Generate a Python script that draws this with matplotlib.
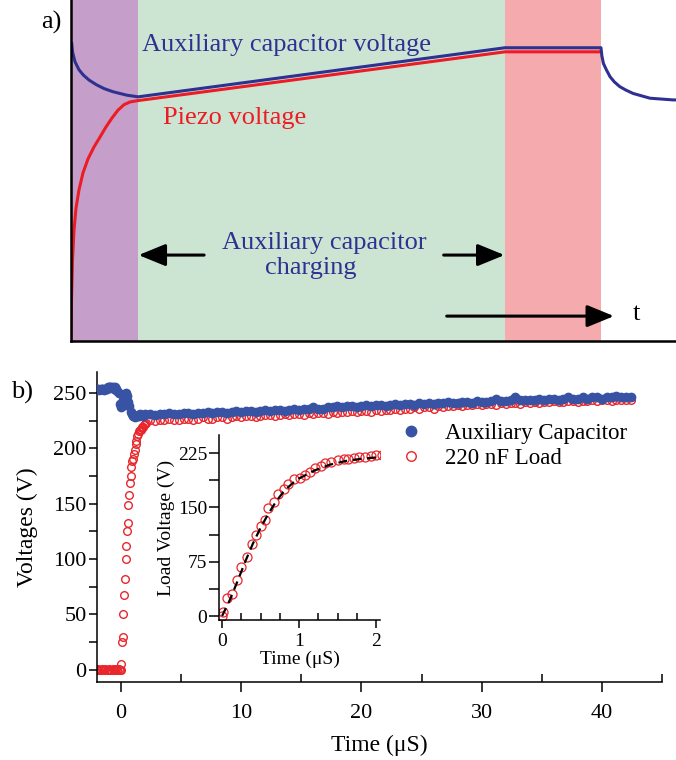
import numpy as np
import matplotlib
matplotlib.use('Agg')
import matplotlib.pyplot as plt

plt.rcParams['font.family'] = ['Liberation Serif', 'DejaVu Serif']

# ---- panel a) schematic (arbitrary units, 0..100 on both axes) ----
phase_edges = [0, 11.07, 71.74, 87.6]
phase_colors = ['#C59FC9', '#CCE5D3', '#F5AAAD']

aux_x = [0.1, 0.25, 0.66, 1.3, 2.03, 3.0, 4.25, 5.5, 6.94, 9.2, 11.1, 71.74, 87.6,
         87.75, 88.0, 88.5, 89.1, 89.8, 90.7, 91.7, 92.9, 95.7, 99.5, 100]
aux_y = [87.6, 84.8, 81.9, 79.6, 78.0, 76.5, 75.1, 74.0, 73.1, 72.1, 71.6, 86.0, 86.0,
         83.6, 81.4, 79.5, 77.5, 76.0, 74.6, 73.6, 72.6, 71.2, 70.7, 70.7]
piezo_x = [0, 0.083, 0.25, 0.5, 0.83, 1.32, 1.98, 2.81, 3.8, 4.79, 5.79, 6.78, 7.77,
           8.76, 9.75, 11.07, 71.74, 87.6]
piezo_y = [0, 12.0, 23.8, 32.6, 39.0, 44.3, 49.3, 53.4, 56.9, 59.8, 62.8, 65.4, 67.7,
           69.3, 70.1, 70.5, 84.8, 84.8]

# ---- panel b) measured voltages ----
# before the trigger (t < 0)
t_pre = np.linspace(-2.0, -0.1, 20)
load_pre = [0, 1, 0, 0, 1, 0, 0, 1, 0, 0, 1, 0, 0, 1, 0, 0, 1, 0, 1, 0]

# load charging (also shown in the inset)
t_rise = [0.0, 0.01, 0.07, 0.13, 0.19, 0.25, 0.32, 0.39, 0.44, 0.51, 0.56, 0.59, 0.68,
          0.73, 0.80, 0.86, 0.93, 1.01, 1.08, 1.14, 1.21, 1.28, 1.34, 1.42, 1.51,
          1.58, 1.64, 1.71, 1.78, 1.86, 1.93, 2.0, 2.07]
load_rise = [0, 5, 25, 30, 50, 68, 82, 100, 112, 125, 133, 149, 158,
             169, 175, 183, 189, 190, 195, 199, 204, 207, 211, 213, 216,
             217, 217, 218, 219, 219, 221, 222, 223]

# slow part, t = 2.4 .. 42.4 us
t_slow = np.linspace(2.4, 42.4, 101)
load_slow = [226, 225, 226, 226, 227, 226, 226, 227, 227, 226,
             227, 228, 227, 227, 228, 228, 227, 228, 229, 228,
             229, 229, 228, 229, 230, 230, 229, 230, 231, 230,
             231, 231, 230, 232, 231, 232, 232, 231, 233, 232,
             233, 233, 234, 233, 234, 234, 233, 235, 234, 235,
             235, 236, 235, 236, 236, 237, 236, 237, 237, 236,
             238, 237, 238, 238, 239, 238, 239, 239, 240, 239,
             240, 240, 239, 241, 240, 241, 241, 240, 242, 241,
             242, 241, 242, 242, 243, 242, 242, 243, 243, 242,
             243, 243, 244, 243, 244, 244, 243, 244, 244, 244,
             244]

t_aux_fast = np.linspace(-2.0, 2.0, 41)
aux_fast = [254, 254, 253, 254, 254, 254, 253, 254, 254, 255,
            255, 255, 255, 255, 254, 255, 254, 252, 250,
            240, 237, 238, 244, 249, 250, 247, 242, 238, 233, 231,
            229, 230, 228, 229, 230, 229, 231, 230, 229, 230, 231]
aux_slow = [231, 230, 231, 231, 232, 231, 231, 232, 232, 231,
            232, 232, 233, 232, 233, 233, 232, 233, 234, 233,
            234, 234, 233, 234, 235, 234, 235, 235, 234, 235,
            236, 235, 236, 236, 237, 236, 236, 237, 237, 238,
            237, 238, 238, 237, 238, 239, 238, 239, 239, 238,
            239, 240, 239, 240, 240, 239, 241, 240, 241, 240,
            241, 241, 242, 241, 241, 242, 242, 241, 243, 242,
            242, 243, 245, 243, 243, 244, 246, 244, 244, 244,
            244, 245, 244, 245, 245, 244, 245, 246, 245, 245,
            246, 245, 246, 246, 245, 246, 246, 247, 246, 246,
            246]

# exponential fit drawn in the inset
t_fit = [0, 0.1, 0.2, 0.3, 0.4, 0.5, 0.6, 0.7, 0.8, 0.9, 1.0, 1.2, 1.4, 1.6, 1.8, 2.0, 2.1]
v_fit = [0, 22, 48, 75, 100, 122, 141, 158, 172, 182, 190, 201, 209, 214, 217, 219, 219]

NAVY = '#2E3192'
RED = '#ED1C24'
BLUE = '#3953A4'
PRED = '#E8262B'

fig = plt.figure(figsize=(6.76, 7.6), dpi=100)

# ================= a) =================
ax = fig.add_axes([71/676, 1-341/760, 605/676, 341/760])
for i in range(3):
  ax.axvspan(phase_edges[i], phase_edges[i+1], color=phase_colors[i], lw=0, zorder=0)
ax.plot(piezo_x, piezo_y, color=RED, lw=2.2, solid_capstyle='butt', zorder=3)
ax.plot(aux_x, aux_y, color=NAVY, lw=2.2, solid_capstyle='butt', zorder=4)
ax.set_xlim(0, 100)
ax.set_ylim(0, 100)
ax.set_xticks([])
ax.set_yticks([])
for s in ['top', 'right']:
  ax.spines[s].set_visible(False)
for s in ['left', 'bottom']:
  ax.spines[s].set_linewidth(1.8)
  ax.spines[s].set_zorder(5)

ax.text(35.7, 86.8, 'Auxiliary capacitor voltage', color=NAVY, fontsize=19,
        ha='center', va='center')
ax.text(27.0, 65.4, 'Piezo voltage', color=RED, fontsize=19, ha='center', va='center')
ax.text(41.8, 28.7, 'Auxiliary capacitor', color=NAVY, fontsize=19, ha='center', va='center')
ax.text(39.7, 21.4, 'charging', color=NAVY, fontsize=19, ha='center', va='center')
ax.text(93.4, 7.9, 't', color='black', fontsize=19, ha='center', va='center')

arr = dict(arrowstyle='-|>,head_length=1.1,head_width=0.45', color='black', lw=2.2,
           shrinkA=0, shrinkB=0, mutation_scale=15)
ax.annotate('', xy=(11.17, 25.2), xytext=(22.0, 25.2), arrowprops=arr)
ax.annotate('', xy=(71.65, 25.2), xytext=(61.6, 25.2), arrowprops=arr)
ax.annotate('', xy=(89.75, 7.3), xytext=(62.1, 7.3), arrowprops=arr)

fig.text(51/676, 1-22/760, 'a)', fontsize=19, ha='center', va='center')
fig.text(22/676, 1-392/760, 'b)', fontsize=19, ha='center', va='center')

# ================= b) =================
bx = fig.add_axes([97/676, 1-682/760, 565/676, 310/760])
t_load = np.concatenate([t_pre, t_rise, t_slow])
v_load = np.concatenate([load_pre, load_rise, load_slow])
t_aux = np.concatenate([t_aux_fast, t_slow])
v_aux = np.concatenate([aux_fast, aux_slow])

bx.plot(t_load, v_load, 'o', ls='none', mfc='none', mec=PRED, mew=1.0, ms=5.5,
        label='220 nF Load', zorder=2)
bx.plot(t_aux, v_aux, 'o', ls='none', color=BLUE, mec=BLUE, ms=6,
        label='Auxiliary Capacitor', zorder=3)

bx.set_xlim(-2, 45)
bx.set_ylim(-11, 269)
bx.set_xticks([0, 10, 20, 30, 40])
bx.set_xticks([5, 15, 25, 35, 45], minor=True)
bx.set_yticks([0, 50, 100, 150, 200, 250])
bx.set_yticks([25, 75, 125, 175, 225], minor=True)
bx.tick_params(axis='x', which='major', direction='out', length=7, width=1.1, labelsize=16, pad=9)
bx.tick_params(axis='x', which='minor', direction='in', length=6, width=1.1)
bx.tick_params(axis='y', which='both', direction='out', length=6, width=1.1, labelsize=16, pad=1.5)
for s in ['top', 'right']:
  bx.spines[s].set_visible(False)
for s in ['left', 'bottom']:
  bx.spines[s].set_linewidth(1.1)
bx.set_xlabel('Time (μS)', fontsize=17, labelpad=8)
bx.set_ylabel('Voltages (V)', fontsize=17, labelpad=11)

h, l = bx.get_legend_handles_labels()
bx.legend(h[::-1], l[::-1], loc='center left', bbox_to_anchor=(0.535, 0.761), frameon=False,
          fontsize=16.5, markerscale=1.25, handlelength=1.0, handletextpad=1.0,
          labelspacing=0.2, borderpad=0, borderaxespad=0)

# inset: load voltage during the first 2 us
ins = fig.add_axes([219/676, 1-620/760, 161/676, 185/760])
ins.patch.set_alpha(0)
ins.plot(t_rise, load_rise, 'o', ls='none', mfc='none', mec=PRED, mew=0.9, ms=6.5, zorder=2)
ins.plot(t_fit, v_fit, color='black', lw=1.6, ls=(0, (4, 2.5)), zorder=3)
ins.set_xlim(-0.04, 2.05)
ins.set_ylim(-5.5, 250)
ins.set_xticks([0, 1, 2])
ins.set_xticks([0.25, 0.5, 0.75, 1.25, 1.5, 1.75], minor=True)
ins.set_yticks([0, 75, 150, 225])
ins.set_yticks([37.5, 112.5, 187.5], minor=True)
ins.tick_params(axis='x', which='major', direction='out', length=6, width=1.1, labelsize=14, pad=3)
ins.tick_params(axis='x', which='minor', direction='in', length=5, width=1.1)
ins.tick_params(axis='y', which='both', direction='out', length=7, width=1.1, labelsize=14, pad=1.5)
for s in ['top', 'right']:
  ins.spines[s].set_visible(False)
for s in ['left', 'bottom']:
  ins.spines[s].set_linewidth(1.1)
ins.set_xlabel('Time (μS)', fontsize=14, labelpad=1)
ins.set_ylabel('Load Voltage (V)', fontsize=14, labelpad=2)

fig.savefig('out.png', dpi=100)
